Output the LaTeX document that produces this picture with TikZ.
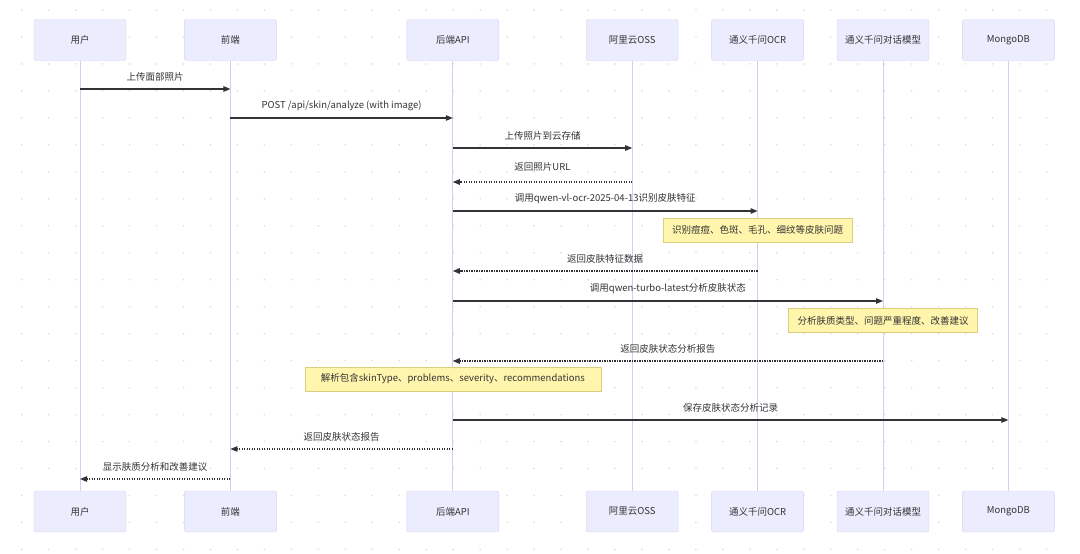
\documentclass[tikz,border=0pt]{standalone}
\usepackage{fontspec}
\setmainfont{Noto Sans CJK SC}
\usetikzlibrary{arrows.meta, positioning, calc}

\definecolor{actfill}{HTML}{ECECFF}
\definecolor{actline}{HTML}{D9D2F3}
\definecolor{lifecol}{HTML}{D6CEF2}
\definecolor{notefill}{HTML}{FFF5AD}
\definecolor{noteline}{HTML}{D8D07C}
\definecolor{txt}{HTML}{333333}
\definecolor{griddot}{HTML}{DCDCDC}

\begin{document}
\begin{tikzpicture}[
      x=1pt, y=-1pt,
      actor/.style={rectangle, rounded corners=2pt, draw=actline, fill=actfill,
                    minimum width=92pt, minimum height=41pt, text=txt,
                    font=\fontsize{9.5}{11}\selectfont},
      note/.style={rectangle, draw=noteline, fill=notefill, text=txt,
                   minimum height=24pt, inner xsep=9pt, font=\fontsize{9.5}{11}\selectfont},
      msg/.style={-{Triangle[length=7pt,width=5.5pt]}, line width=1.1pt, draw=txt},
      reply/.style={msg, dash pattern=on 1.2pt off 1.3pt},
      lbl/.style={midway, yshift=12pt, text=txt, font=\fontsize{9.5}{11}\selectfont},
      life/.style={draw=lifecol, line width=1pt}
    ]
    \useasboundingbox (0,0) rectangle (1080,554);
    \fill[white] (0,0) rectangle (1080,554);

    % dotted background
    \foreach \i in {0,...,38}
      \foreach \j in {0,...,20}
        \fill[griddot] (21.7+\i*26.97, 10+\j*26.97) circle (0.9);

    % participants, top row
    \node[actor] at (80,40) (usrT) {用户};
    \node[actor, right=58pt of usrT] (feT) {前端};
    \node[actor, right=130pt of feT] (apiT) {后端API};
    \node[actor, right=87pt of apiT] (ossT) {阿里云OSS};
    \node[actor, right=33pt of ossT] (ocrT) {通义千问OCR};
    \node[actor, right=33pt of ocrT] (llmT) {通义千问对话模型};
    \node[actor, right=33pt of llmT] (dbT) {MongoDB};

    % participants, bottom row
    \node[actor] at (80,511.5) (usrB) {用户};
    \node[actor, right=58pt of usrB] (feB) {前端};
    \node[actor, right=130pt of feB] (apiB) {后端API};
    \node[actor, right=87pt of apiB] (ossB) {阿里云OSS};
    \node[actor, right=33pt of ossB] (ocrB) {通义千问OCR};
    \node[actor, right=33pt of ocrB] (llmB) {通义千问对话模型};
    \node[actor, right=33pt of llmB] (dbB) {MongoDB};

    % lifelines
    \draw[life] (usrT.south) -- (usrB.north);
    \draw[life] (feT.south) -- (feB.north);
    \draw[life] (apiT.south) -- (apiB.north);
    \draw[life] (ossT.south) -- (ossB.north);
    \draw[life] (ocrT.south) -- (ocrB.north);
    \draw[life] (llmT.south) -- (llmB.north);
    \draw[life] (dbT.south) -- (dbB.north);

    % message rows
    \coordinate (r1) at (0,89);
    \coordinate (r2) at (0,118);
    \coordinate (r3) at (0,148);
    \coordinate (r4) at (0,182);
    \coordinate (r5) at (0,211);
    \coordinate (r7) at (0,271);
    \coordinate (r8) at (0,301);
    \coordinate (r10) at (0,361);
    \coordinate (r11) at (0,420);
    \coordinate (r12) at (0,449);
    \coordinate (r13) at (0,479);

    \draw[msg] (usrT |- r1) -- node[lbl]{上传面部照片} (feT |- r1);
    \draw[msg] (feT |- r2) -- node[lbl]{POST /api/skin/analyze (with image)} (apiT |- r2);
    \draw[msg] (apiT |- r3) -- node[lbl]{上传照片到云存储} (ossT |- r3);
    \draw[reply] (ossT |- r4) -- node[lbl, yshift=3pt]{返回照片URL} (apiT |- r4);
    \draw[msg] (apiT |- r5) -- node[lbl]{调用qwen-vl-ocr-2025-04-13识别皮肤特征} (ocrT |- r5);
    \draw[reply] (ocrT |- r7) -- node[lbl]{返回皮肤特征数据} (apiT |- r7);
    \draw[msg] (apiT |- r8) -- node[lbl]{调用qwen-turbo-latest分析皮肤状态} (llmT |- r8);
    \draw[reply] (llmT |- r10) -- node[lbl]{返回皮肤状态分析报告} (apiT |- r10);
    \draw[msg] (apiT |- r11) -- node[lbl]{保存皮肤状态分析记录} (dbT |- r11);
    \draw[reply] (apiT |- r12) -- node[lbl]{返回皮肤状态报告} (feT |- r12);
    \draw[reply] (feT |- r13) -- node[lbl]{显示肤质分析和改善建议} (usrT |- r13);

    % notes
    \node[note] (ocrnote) at ($(ocrT |- r5)+(0,19)$) {识别痘痘、色斑、毛孔、细纹等皮肤问题};
    \node[note] (llmnote) at ($(llmT |- r8)+(0,19.5)$) {分析肤质类型、问题严重程度、改善建议};
    \node[note, minimum width=296pt] (apinote) at ($(apiT |- r10)+(0,18)$) {解析包含skinType、problems、severity、recommendations};
\end{tikzpicture}
\end{document}
